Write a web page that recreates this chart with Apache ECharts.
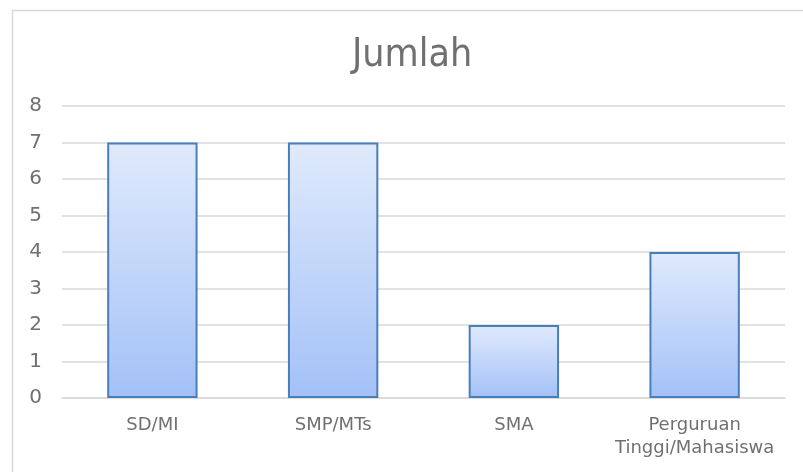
<!DOCTYPE html>
<html>
<head>
<meta charset="utf-8">
<script src="https://cdn.jsdelivr.net/npm/echarts@6/dist/echarts.min.js"></script>
<style>
  html, body { margin: 0; padding: 0; background: #fff; }
  #chart { width: 803px; height: 472px; }
</style>
</head>
<body>
<div id="chart"></div>
<script>
var categories = ['SD/MI', 'SMP/MTs', 'SMA', 'Perguruan\nTinggi/Mahasiswa'];
var values = [7, 7, 2, 4];
var yTicks = [0, 8, 1];   // min, max, interval

var myChart = echarts.init(document.getElementById('chart'));

var option = {
    backgroundColor: '#fff',
    animation: false,
    graphic: [
        {
            type: 'rect',
            left: 10, top: 8,
            shape: { width: 820, height: 480 },
            style: { fill: 'none', stroke: '#d9d9d9', lineWidth: 1.5 },
            z: -1
        }
    ],
    title: {
        text: 'Jumlah',
        left: 347,
        top: 31,
        textStyle: {
            color: '#707070',
            fontSize: 39,
            fontWeight: 'normal',
            fontFamily: '"Liberation Sans Narrow", "DejaVu Sans Condensed", sans-serif'
        }
    },
    grid: {
        left: 62,
        right: 18,
        top: 106,
        bottom: 74
    },
    xAxis: {
        type: 'category',
        data: categories,
        axisLine: { show: true, lineStyle: { color: '#d9d9d9', width: 1.5 } },
        axisTick: { show: false },
        axisLabel: {
            interval: 0,
            color: '#707070',
            fontSize: 18,
            fontFamily: '"DejaVu Sans", sans-serif',
            margin: 16,
            lineHeight: 23
        }
    },
    yAxis: {
        type: 'value',
        min: yTicks[0],
        max: yTicks[1],
        interval: yTicks[2],
        axisLine: { show: false },
        axisTick: { show: false },
        splitLine: { lineStyle: { color: '#d9d9d9', width: 1.5 } },
        axisLabel: {
            color: '#707070',
            fontSize: 20,
            fontFamily: '"DejaVu Sans", sans-serif',
            margin: 20
        }
    },
    series: [
        {
            type: 'bar',
            data: values,
            barWidth: '50%',
            itemStyle: {
                color: new echarts.graphic.LinearGradient(0, 0, 0, 1, [
                    { offset: 0, color: '#e0eafc' },
                    { offset: 1, color: '#a3c1f7' }
                ]),
                borderColor: '#4a7ebb',
                borderWidth: 2
            }
        }
    ]
};
myChart.setOption(option);
</script>
</body>
</html>
